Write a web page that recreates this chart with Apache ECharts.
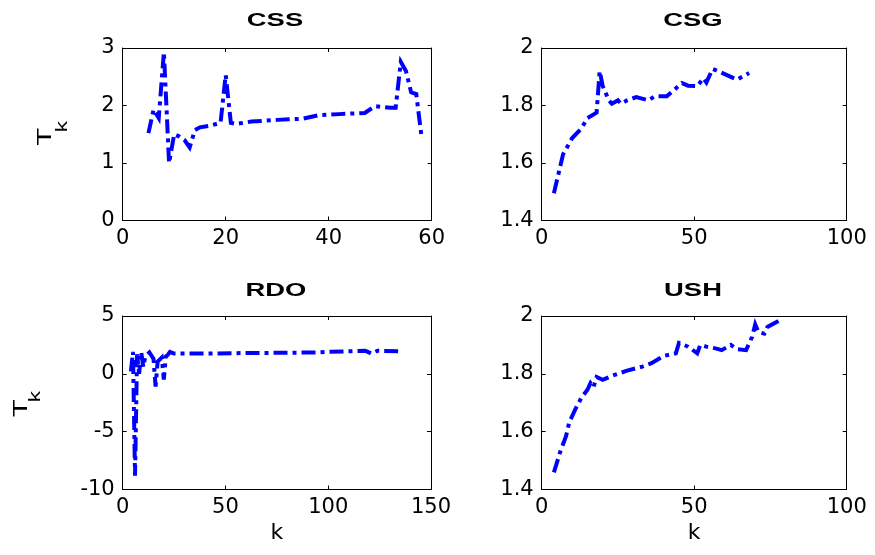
<!DOCTYPE html>
<html>
<head>
<meta charset="utf-8">
<script src="https://cdn.jsdelivr.net/npm/echarts@6/dist/echarts.min.js"></script>
<style>html,body{margin:0;padding:0;background:#fff}#c{width:875px;height:555px}</style>
</head>
<body>
<div id="c"></div>
<script>
// ---- data ----
const titles = ['CSS', 'CSG', 'RDO', 'USH'];
const cssK = [5, 6, 7, 8, 9, 10, 11, 12, 13, 14, 15, 17, 19, 20, 21, 22, 25, 30, 35, 38, 42, 47, 49, 52, 53, 54, 55, 56, 57, 58];
const cssT = [1.52, 1.93, 1.78, 2.93, 1.0, 1.5, 1.46, 1.40, 1.27, 1.57, 1.62, 1.65, 1.70, 2.53, 1.70, 1.68, 1.72, 1.75, 1.77, 1.83, 1.85, 1.87, 1.99, 1.96, 1.96, 2.76, 2.60, 2.23, 2.20, 1.48];
const csgK = [4, 7, 10, 13, 15, 18, 19, 20, 22, 23, 25, 26, 28, 31, 35, 37, 41, 46, 48, 51, 53, 54, 56, 58, 64, 68];
const csgT = [1.495, 1.63, 1.687, 1.72, 1.756, 1.775, 1.92, 1.868, 1.818, 1.806, 1.818, 1.806, 1.818, 1.829, 1.818, 1.832, 1.832, 1.878, 1.869, 1.867, 1.895, 1.88, 1.927, 1.919, 1.89, 1.913];
const rdoK = [4, 5, 6, 7, 8, 9, 10, 11, 13, 15, 16, 17, 19, 20, 21, 22, 23, 25, 40, 60, 80, 95, 100, 110, 118, 121, 124, 134];
const rdoT = [0.2, 1.9, -8.8, 1.7, 0.0, 1.9, 0.6, 1.5, 1.85, 1.3, -1.1, 1.05, 1.4, -0.5, 1.5, 1.65, 1.9, 1.75, 1.75, 1.8, 1.82, 1.85, 1.9, 1.95, 2.0, 1.75, 2.0, 1.95];
const ushK = [4, 6, 8, 9, 11, 13, 15, 16, 17, 18, 20, 23, 28, 33, 36, 40, 44, 45, 48, 51, 52, 54, 57, 59, 62, 64, 67, 69, 70, 71, 73, 74, 78];
const ushT = [1.459, 1.528, 1.585, 1.631, 1.677, 1.717, 1.745, 1.768, 1.754, 1.789, 1.779, 1.793, 1.811, 1.825, 1.837, 1.862, 1.871, 1.907, 1.894, 1.871, 1.9, 1.894, 1.888, 1.882, 1.9, 1.885, 1.882, 1.928, 1.971, 1.945, 1.939, 1.962, 1.985];
const xRanges = [[0, 60, 20], [0, 100, 50], [0, 150, 50], [0, 100, 50]];
const yRanges = [[0, 3, 1], [1.4, 2, 0.2], [-10, 5, 5], [1.4, 2, 0.2]];
const seriesK = [cssK, csgK, rdoK, ushK];
const seriesT = [cssT, csgT, rdoT, ushT];

// ---- layout ----
const grids = [
  {left: 122.7, top: 48, width: 309, height: 172.5},
  {left: 541.7, top: 48, width: 305, height: 172.5},
  {left: 122.7, top: 316, width: 308.3, height: 173.5},
  {left: 541.7, top: 316, width: 305, height: 173.5}
];
const labelFont = {color: '#000', fontFamily: 'DejaVu Sans', fontSize: 21};
function axisBase(r, pos, gi, showLabel, extra) {
  return Object.assign({
    type: 'value', gridIndex: gi, position: pos,
    min: r[0], max: r[1], interval: r[2],
    axisLine: {show: true, onZero: false, lineStyle: {color: '#000', width: 1}},
    axisTick: {show: true, inside: true, length: 4, lineStyle: {color: '#000', width: 1}},
    splitLine: {show: false},
    axisLabel: Object.assign({show: showLabel, margin: 8}, labelFont)
  }, extra || {});
}
const xAxes = [], yAxes = [], series = [];
for (let i = 0; i < 4; i++) {
  const nameOpt = i >= 2 ? {name: 'k', nameLocation: 'middle', nameGap: 33,
    nameTextStyle: {color: '#000', fontFamily: 'DejaVu Sans', fontSize: 22}} : {};
  xAxes.push(axisBase(xRanges[i], 'bottom', i, true, nameOpt));
  xAxes.push(axisBase(xRanges[i], 'top', i, false));
  yAxes.push(axisBase(yRanges[i], 'left', i, true));
  yAxes.push(axisBase(yRanges[i], 'right', i, false));
  series.push({
    type: 'line', xAxisIndex: 2 * i, yAxisIndex: 2 * i,
    data: seriesK[i].map((k, j) => [k, seriesT[i][j]]),
    symbol: 'none', silent: true, animation: false,
    lineStyle: {color: '#0000ff', width: 4, type: [14, 5, 4, 5], cap: 'butt', join: 'miter'}
  });
}

// titles and rotated T_k labels
const titlePos = [[275, 21], [693, 21], [276, 291], [693, 291]];
const graphics = titles.map((t, i) => ({
  type: 'text', x: titlePos[i][0], y: titlePos[i][1], scaleX: 1.48, silent: true,
  style: {text: t, fontFamily: 'Liberation Sans', fontWeight: 'bold', fontSize: 18.5, fill: '#000',
    textAlign: 'center', textVerticalAlign: 'middle', align: 'center', verticalAlign: 'middle'}
}));
const tkPos = [[45, 136.7, 62.5, 126.7], [20.8, 408.3, 35.8, 396.7]];
tkPos.forEach(p => {
  graphics.push({
    type: 'text', x: p[0], y: p[1], rotation: Math.PI / 2, scaleX: 1.4, silent: true,
    style: {text: 'T', fontFamily: 'Liberation Sans', fontSize: 21, fill: '#000',
      textAlign: 'center', textVerticalAlign: 'middle', align: 'center', verticalAlign: 'middle'}
  });
  graphics.push({
    type: 'text', x: p[2], y: p[3], rotation: Math.PI / 2, scaleX: 1.37, silent: true,
    style: {text: 'k', fontFamily: 'Liberation Sans', fontSize: 16.3, fill: '#000',
      textAlign: 'center', textVerticalAlign: 'middle', align: 'center', verticalAlign: 'middle'}
  });
});

const chart = echarts.init(document.getElementById('c'), null, {renderer: 'canvas'});
chart.setOption({
  backgroundColor: '#fff',
  animation: false,
  grid: grids,
  xAxis: xAxes,
  yAxis: yAxes,
  series: series,
  graphic: graphics
});
</script>
</body>
</html>
